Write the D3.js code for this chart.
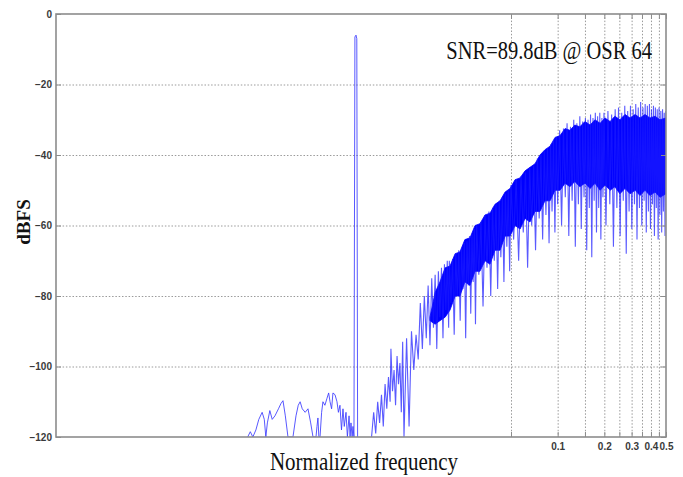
<!DOCTYPE html>
<html>
<head>
<meta charset="utf-8">
<script src="https://cdn.jsdelivr.net/npm/d3@7/dist/d3.min.js"></script>
<style>
  html, body { margin: 0; padding: 0; background: #fff; }
  svg { display: block; }
</style>
</head>
<body>
<svg id="chart" width="683" height="477"></svg>
<script>
// ---------- data ----------
const yTicks = [0, -20, -40, -60, -80, -100, -120];
const xTickLabels = [0.1, 0.2, 0.3, 0.4, 0.5];
const xGrid = [0.05, 0.1, 0.15, 0.2, 0.25, 0.3, 0.35, 0.4, 0.45, 0.5];

// low-level leakage lobes left of the tone, then the tone itself
const lobeFreq = [0.00100,0.00104,0.00108,0.00113,0.00118,0.00124,0.00128,0.00131,0.00134,0.00139,
  0.00144,0.00150,0.00158,0.00164,0.00169,0.00175,0.00182,0.00196,0.00205,0.00212,
  0.00218,0.00225,0.00235,0.00245,0.00255,0.00264,0.00276,0.00280,0.00284,0.00288,
  0.00293,0.00300,0.00306,0.00315,0.00325,0.00333,0.00340,0.00348,0.00355,0.00366,
  0.00377,0.00385,0.00394,0.00403,0.00412,0.00420,0.00431,0.00440,0.00451,0.00458,
  0.00464,0.00472,0.00478,0.00485,0.00492,0.00500,0.00506,0.00512];
const lobeDb = [-120,-118.5,-120,-118,-115,-113,-115,-120,-116,-112.5,
  -115,-114,-112,-110.5,-109.7,-114,-120,-120,-114,-111,
  -110,-112,-113,-112,-116,-120,-120,-117,-114.6,-120,
  -120,-113,-110,-111,-109,-107.5,-110,-112,-107.5,-108,
  -110,-113,-111,-118,-112,-117,-113,-120,-114,-120,
  -116,-120,-117,-120,-6.5,-6,-7,-120];

// shaped quantization noise: dense body (upper / lower edge)
const bodyFreq = [0.0150,0.0162,0.0174,0.0188,0.0202,0.0218,0.0234,0.0252,0.0272,0.0293,
  0.0315,0.0340,0.0366,0.0394,0.0425,0.0458,0.0493,0.0531,0.0572,0.0616,
  0.0663,0.0714,0.0769,0.0828,0.0893,0.0962,0.1036,0.1116,0.120,0.129,
  0.139,0.150,0.162,0.174,0.188,0.202,0.218,0.234,0.252,0.272,
  0.293,0.316,0.340,0.366,0.394,0.425,0.457,0.5];
const bodyUpper = [-86,-79,-76,-72,-71.5,-68,-67.5,-64,-63.5,-60,
  -59.5,-57,-56.5,-54,-53,-50.5,-49.5,-47,-46.5,-44.5,
  -43.5,-42.5,-40,-38.5,-37.5,-35,-34.5,-32.5,-33,-31.5,
  -32,-30.5,-31.5,-30,-31,-29.5,-30.5,-29,-30,-28.5,
  -29.5,-28.5,-29.5,-28.5,-29.5,-29,-30,-29.5];
const bodyLower = [-87,-88,-87,-86,-84,-80,-80,-76,-77,-73,
  -73,-70,-71,-67,-67,-63,-63,-60,-61,-58,
  -59,-56,-56,-53,-53,-50,-50,-48,-49,-47.5,
  -49,-48,-49.5,-48,-50,-48.5,-50,-49,-51,-49.5,
  -51,-50,-51.5,-50,-51.5,-50.5,-52,-51];

// noise spikes (peaks / dips around the body)
const spikeFreq = [0.0063,0.0065,0.0067,0.0069,0.0071,0.0073,0.0075,0.0077,0.0079,0.0081,
  0.0083,0.0084,0.0086,0.0088,0.0090,0.0092,0.0094,0.0096,0.0098,0.0100,
  0.0102,0.0106,0.0110,0.0114,0.0118,0.0122,0.0126,0.0130,0.0134,0.0138,
  0.0142,0.0146,0.0150,0.0154,0.0158,0.0162,0.0166,0.0170,0.0174,0.0178,
  0.0182,0.0186,0.0190,0.0194,0.0198,
  0.0200,0.0205,0.0210,0.0215,0.0220,0.0225,0.0230,0.0235,0.0240,0.0245,
  0.0250,0.0255,0.0260,0.0265,0.0270,0.0275,0.0280,0.0285,0.0290,0.0295,0.0300,
  0.031,0.032,0.033,0.034,0.035,0.036,0.037,0.038,0.039,0.040,
  0.041,0.042,0.043,0.044,0.045,0.046,0.047,0.048,0.049,0.050,
  0.052,0.054,0.056,0.058,0.060,0.062,0.064,0.066,0.068,0.070,
  0.072,0.074,0.076,0.078,0.080,0.082,0.084,0.086,0.088,0.090,
  0.092,0.094,0.096,0.098,0.100,
  0.103,0.106,0.109,0.112,0.115,0.118,0.121,0.124,0.127,0.130,
  0.133,0.136,0.139,0.142,0.145,0.148,0.151,0.154,0.157,0.160,
  0.163,0.166,0.169,0.172,0.175,0.178,0.181,0.184,0.187,0.190,
  0.193,0.196,0.199,
  0.205,0.211,0.217,0.223,0.229,0.235,0.241,0.247,0.253,0.259,
  0.265,0.271,0.277,0.283,0.289,0.295,0.301,0.307,0.313,0.319,
  0.325,0.331,0.337,0.343,0.349,0.355,0.361,0.367,0.373,0.379,
  0.385,0.391,0.397,0.403,0.409,0.415,0.421,0.427,0.433,0.439,
  0.445,0.451,0.457,0.463,0.469,0.475,0.481,0.487,0.493,0.499];
const spikeDb = [-120,-113,-119,-110,-116,-108,-117,-105,-112,-103,
  -110,-95,-107,-101,-111,-97,-105,-99,-113,-93,
  -120,-92,-117,-90,-101,-91,-98,-82,-95,-80,
  -92,-77,-94,-75,-89,-74,-95,-73,-86,-72,
  -92,-71,-84,-70,-89,
  -70,-82,-69.5,-91,-68,-80,-67,-87,-66.5,-78,
  -65,-92,-64.5,-77,-63,-85,-62.5,-76,-61,-88,-60,
  -74,-59,-83,-57,-72,-56,-80,-55,-70,-54,
  -78,-53,-69,-52,-76,-51,-66,-50,-73,-48.5,
  -64,-47,-70,-46,-62,-45,-72,-43.5,-60,-43,
  -67,-41,-58,-40,-64,-39,-57,-38,-65,-37,
  -56,-36,-62,-35,-54,
  -33,-60,-32.5,-52,-31,-63,-32,-53,-30,-66,
  -31,-54,-29,-61,-30.5,-52,-29.5,-67,-30,-55,
  -28.5,-69,-29.5,-53,-28,-62,-29,-55,-28,-64,
  -29.5,-52,-28,
  -60,-27.5,-54,-28.5,-66,-27,-55,-26.5,-63,-28,
  -53,-26,-68,-27.5,-56,-26,-61,-27,-54,-25.5,
  -64,-26.5,-55,-25,-60,-26.5,-53,-25.5,-62,-26,
  -56,-25.5,-61,-27,-54,-26,-63,-26.5,-55,-27,
  -64,-26.5,-57,-27.5,-62,-27,-56,-28,-63,-27.5];

const annotation = "SNR=89.8dB @ OSR 64";

// ---------- layout ----------
const svg = d3.select("#chart");
const L = 56, R = 666, T = 14, B = 437;
const x = d3.scaleLog().domain([5.8e-5, 0.5]).range([L, R]);
const y = d3.scaleLinear().domain([-120, 0]).range([B, T]);

svg.append("defs").append("clipPath").attr("id", "clip")
  .append("rect").attr("x", L).attr("y", T).attr("width", R - L).attr("height", B - T);

// grid
const grid = svg.append("g").attr("stroke", "#9a9a9a").attr("stroke-width", 1)
  .attr("stroke-dasharray", "1.5,1.8");
grid.selectAll(".hg").data(yTicks.filter(d => d > -120 && d < 0)).join("line")
  .attr("x1", L).attr("x2", R).attr("y1", d => y(d) + 0.5).attr("y2", d => y(d) + 0.5);
grid.selectAll(".vg").data(xGrid.filter(d => d < 0.5)).join("line")
  .attr("y1", T).attr("y2", B).attr("x1", d => x(d) + 0.5).attr("x2", d => x(d) + 0.5);

// data
const plot = svg.append("g").attr("clip-path", "url(#clip)");
const body = bodyFreq.map((f, i) => ({ f, u: bodyUpper[i], l: bodyLower[i] }));
plot.append("path").datum(body)
  .attr("fill", "#0000ff").attr("stroke", "#0000ff").attr("stroke-width", 0.8)
  .attr("d", d3.area().x(d => x(d.f)).y0(d => y(d.l)).y1(d => y(d.u)));

const line = d3.line().x(d => x(d[0])).y(d => y(d[1]));
plot.append("path").datum(spikeFreq.map((f, i) => [f, spikeDb[i]]))
  .attr("fill", "none").attr("stroke", "#1a1aff").attr("stroke-width", 1.1)
  .attr("stroke-opacity", 0.72).attr("d", line);
plot.append("path").datum(lobeFreq.map((f, i) => [f, lobeDb[i]]))
  .attr("fill", "none").attr("stroke", "#3b3bff").attr("stroke-width", 1)
  .attr("stroke-opacity", 0.85).attr("d", line);

// axes (inward ticks, MATLAB style)
const axColor = "#8c8c8c";
const fmtX = d => xTickLabels.includes(d) ? String(d) : "";
const ax = (g) => {
  g.select(".domain").remove();
  g.selectAll(".tick line").attr("stroke", axColor).attr("stroke-width", 1);
  g.selectAll("text").attr("fill", "#3a3a3a").style("font-family", "Liberation Sans, Arial, sans-serif")
    .style("font-size", "10px").style("font-weight", "bold");
};
svg.append("g").attr("transform", `translate(${L},0)`)
  .call(d3.axisLeft(y).tickValues(yTicks).tickSize(-5).tickPadding(4)).call(ax);
svg.append("g").attr("transform", `translate(${R},0)`)
  .call(d3.axisRight(y).tickValues(yTicks).tickSize(-5).tickFormat("")).call(ax);
svg.append("g").attr("transform", `translate(0,${B})`)
  .call(d3.axisBottom(x).tickValues(xGrid).tickSize(-5).tickPadding(6).tickFormat(fmtX)).call(ax);
svg.append("g").attr("transform", `translate(0,${T})`)
  .call(d3.axisTop(x).tickValues(xGrid).tickSize(-5).tickFormat("")).call(ax);

// frame
svg.append("rect").attr("x", L).attr("y", T).attr("width", R - L).attr("height", B - T)
  .attr("fill", "none").attr("stroke", axColor).attr("stroke-width", 1.6);

// texts
svg.append("text").attr("transform", `translate(${(L + R) / 2 + 3},470) scale(1,1.15)`)
  .attr("text-anchor", "middle").attr("fill", "#111")
  .style("font-family", "Liberation Serif, Times New Roman, serif").style("font-size", "21px")
  .text("Normalized frequency");
svg.append("text").attr("transform", "translate(30,222) rotate(-90)")
  .attr("text-anchor", "middle").attr("fill", "#111")
  .style("font-family", "Liberation Serif, Times New Roman, serif").style("font-size", "19px")
  .style("font-weight", "bold").text("dBFS");
svg.append("text").attr("transform", "translate(652,59) scale(1,1.2)")
  .attr("text-anchor", "end").attr("fill", "#111")
  .style("font-family", "Liberation Serif, Times New Roman, serif").style("font-size", "20.5px")
  .text(annotation);
</script>
</body>
</html>
